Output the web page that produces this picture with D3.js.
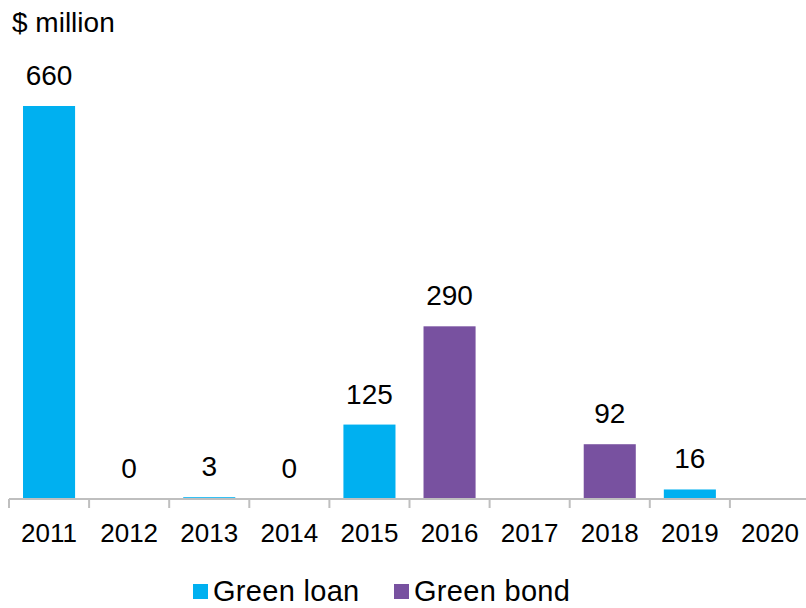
<!DOCTYPE html>
<html>
<head>
<meta charset="utf-8">
<script src="https://cdn.jsdelivr.net/npm/d3@7"></script>
<style>
  body { margin: 0; background: #fff; }
  text { font-family: "Liberation Sans", Arial, sans-serif; fill: #000; }
</style>
</head>
<body>
<div id="chart"></div>
<script>
const YEARS = ["2011","2012","2013","2014","2015","2016","2017","2018","2019","2020"];
const GREEN_LOAN = [660, 0, 3, 0, 125, null, null, null, 16, null];
const GREEN_BOND = [null, null, null, null, null, 290, null, 92, null, null];
const SERIES_NAMES = ["Green loan", "Green bond"];
const COLORS = ["#00b0f0", "#7851a0"];

const width = 806, height = 608;
const axisY = 499;

const svg = d3.select("#chart").append("svg")
  .attr("width", width).attr("height", height);

const x = d3.scaleBand().domain(YEARS).range([9, 810]).paddingInner(0.35).paddingOuter(0.175);
const y = d3.scaleLinear().domain([0, 660]).range([axisY, 106]);

// one bar per year: whichever series has a value
const bars = YEARS.map((yr, i) => {
  if (GREEN_LOAN[i] !== null) return { year: yr, value: GREEN_LOAN[i], s: 0 };
  if (GREEN_BOND[i] !== null) return { year: yr, value: GREEN_BOND[i], s: 1 };
  return null;
}).filter(d => d);

svg.append("g").selectAll("rect")
  .data(bars.filter(d => d.value > 0))
  .join("rect")
  .attr("x", d => x(d.year))
  .attr("y", d => y(d.value))
  .attr("width", x.bandwidth())
  .attr("height", d => y(0) - y(d.value))
  .attr("fill", d => COLORS[d.s]);

// axis line + ticks at band boundaries
const axis = svg.append("g");
axis.append("line")
  .attr("x1", 9).attr("x2", 806)
  .attr("y1", axisY).attr("y2", axisY)
  .attr("stroke", "#bfbfbf").attr("stroke-width", 2);
const step = x.step();
d3.range(YEARS.length).forEach(i => {
  const tx = x(YEARS[i]) - x.paddingOuter() * step;
  axis.append("line")
    .attr("x1", tx).attr("x2", tx)
    .attr("y1", axisY).attr("y2", axisY + 9)
    .attr("stroke", "#bfbfbf").attr("stroke-width", 2);
});

axis.selectAll("text.tick")
  .data(YEARS)
  .join("text")
  .attr("class", "tick")
  .attr("x", d => x(d) + x.bandwidth() / 2)
  .attr("y", 542)
  .attr("text-anchor", "middle")
  .style("font-size", "26px")
  .text(d => d);

// value labels
svg.append("g").selectAll("text")
  .data(bars)
  .join("text")
  .attr("x", d => x(d.year) + x.bandwidth() / 2)
  .attr("y", d => y(d.value) - 21)
  .attr("text-anchor", "middle")
  .style("font-size", "28px")
  .text(d => d.value);

svg.append("text")
  .attr("x", 12).attr("y", 32)
  .style("font-size", "28px")
  .text("$ million");

// legend (kept just above the bottom edge so descenders are not clipped)
const legendX = [193, 394];
const legend = svg.append("g");
SERIES_NAMES.forEach((name, i) => {
  legend.append("rect")
    .attr("x", legendX[i]).attr("y", 584)
    .attr("width", 15).attr("height", 15)
    .attr("fill", COLORS[i]);
  legend.append("text")
    .attr("x", legendX[i] + 20).attr("y", 601)
    .style("font-size", "29px")
    .style("letter-spacing", "0.3px")
    .text(name);
});
</script>
</body>
</html>
